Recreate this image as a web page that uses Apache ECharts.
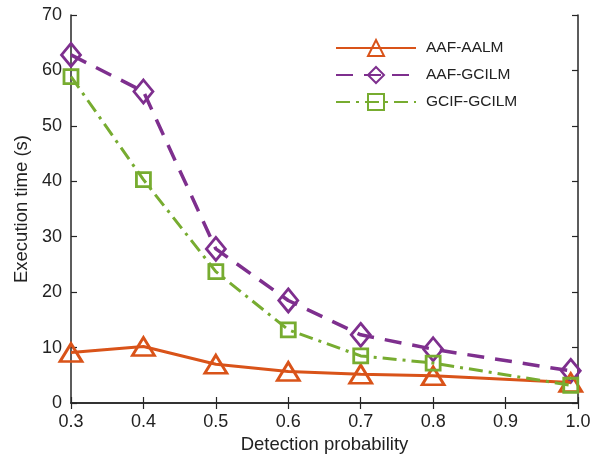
<!DOCTYPE html>
<html>
<head>
    <meta charset="utf-8">
    <title>Execution time</title>
    <script src="https://cdn.jsdelivr.net/npm/echarts@6/dist/echarts.min.js"></script>
    <style>
        html, body { margin: 0; padding: 0; background: #fff; }
    </style>
</head>
<body>
<div id="chart" style="width:599px;height:457px;"></div>
<script type="text/javascript">
    // 数据
    var probs = [0.3, 0.4, 0.5, 0.6, 0.7, 0.8, 0.99];
    var aafAalm = [9.1, 10.2, 7.0, 5.7, 5.2, 4.9, 3.7];
    var aafGcilm = [62.8, 56.2, 27.8, 18.5, 12.3, 9.7, 5.8];
    var gcifGcilm = [58.9, 40.3, 23.7, 13.2, 8.5, 7.2, 3.2];

    var font = 'Liberation Sans, Arial, Helvetica, sans-serif';
    var axisCol = '#262626';

    function pairs(ys) {
        return probs.map(function (x, i) { return [x, ys[i]]; });
    }

    var myChart = echarts.init(document.getElementById('chart'));

    var tickCommon = {
        axisLine: { show: true, lineStyle: { color: axisCol, width: 1.5 } },
        axisTick: { show: true, inside: true, length: 6, lineStyle: { color: axisCol, width: 1.2 } },
        splitLine: { show: false }
    };

    myChart.setOption({
        animation: false,
        textStyle: { fontFamily: font },
        grid: { left: 71, right: 21, top: 15, bottom: 54, outerBoundsMode: 'none' },
        legend: {
            orient: 'vertical',
            left: 330,
            top: 34,
            itemWidth: 80,
            itemHeight: 20,
            itemGap: 9,
            textStyle: { fontSize: 15.5, color: '#222', fontFamily: font, padding: [0, 0, 0, 5] },
            data: ['AAF-AALM', 'AAF-GCILM', 'GCIF-GCILM']
        },
        xAxis: [
            Object.assign({
                type: 'value', min: 0.3, max: 1.0, interval: 0.1,
                name: 'Detection probability', nameLocation: 'middle', nameGap: 29,
                nameTextStyle: { fontSize: 18.5, color: '#222' },
                axisLabel: { fontSize: 18, color: '#222', margin: 10,
                    formatter: function (v) { return v.toFixed(1); } }
            }, tickCommon),
            Object.assign({
                type: 'value', min: 0.3, max: 1.0, interval: 0.1, position: 'top',
                axisLabel: { show: false }
            }, tickCommon)
        ],
        yAxis: [
            Object.assign({
                type: 'value', min: 0, max: 70, interval: 10,
                name: 'Execution time (s)', nameLocation: 'middle', nameGap: 40,
                nameTextStyle: { fontSize: 18.5, color: '#222' },
                axisLabel: { fontSize: 18, color: '#222', margin: 9 }
            }, tickCommon),
            Object.assign({
                type: 'value', min: 0, max: 70, interval: 10, position: 'right',
                axisLabel: { show: false }
            }, tickCommon)
        ],
        series: [
            {
                name: 'AAF-AALM', type: 'line', data: pairs(aafAalm),
                symbol: 'triangle', symbolSize: [22, 18],
                lineStyle: { color: '#D95319', width: 3 },
                itemStyle: { color: 'rgba(255,255,255,0)', borderColor: '#D95319', borderWidth: 2.8 },
                z: 3
            },
            {
                name: 'AAF-GCILM', type: 'line', data: pairs(aafGcilm),
                symbol: 'diamond', symbolSize: [19, 23],
                lineStyle: { color: '#7E2F8E', width: 3.5, type: [17, 11] },
                itemStyle: { color: 'rgba(255,255,255,0)', borderColor: '#7E2F8E', borderWidth: 2.8 },
                z: 2
            },
            {
                name: 'GCIF-GCILM', type: 'line', data: pairs(gcifGcilm),
                symbol: 'rect', symbolSize: 14,
                lineStyle: { color: '#77AC30', width: 3, type: [14, 6, 3, 6] },
                itemStyle: { color: 'rgba(255,255,255,0)', borderColor: '#77AC30', borderWidth: 2.8 },
                z: 4
            }
        ]
    });
</script>
</body>
</html>
